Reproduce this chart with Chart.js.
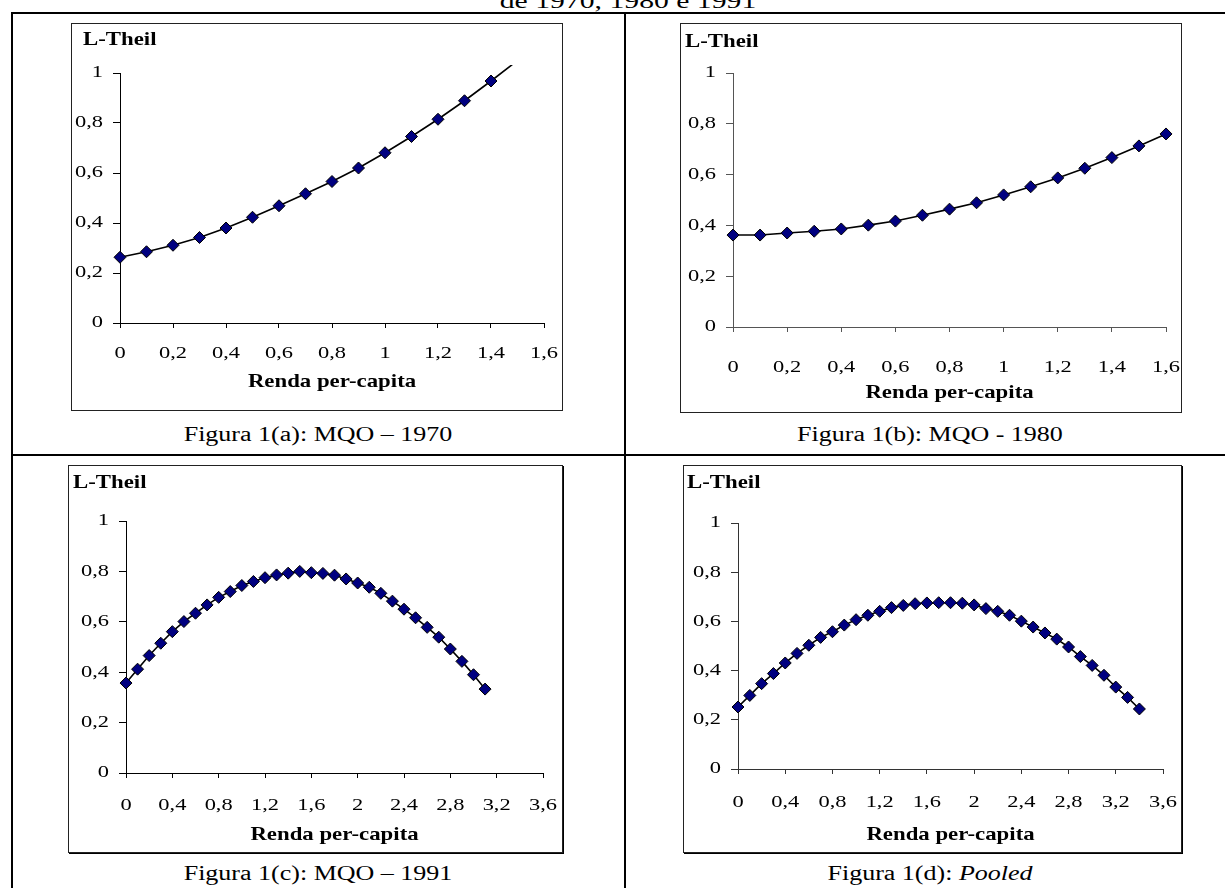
<!DOCTYPE html>
<html>
<head>
<meta charset="utf-8">
<script src="https://cdn.jsdelivr.net/npm/chart.js@4.4.0/dist/chart.umd.min.js"></script>
<style>
  body { margin: 0; width: 1225px; height: 888px; overflow: hidden; background: #fff; position: relative;
         font-family: 'Liberation Serif', 'Times New Roman', serif; color: #000; }
  .ln { position: absolute; background: #000; }
  .cap { position: absolute; font-size: 20px; line-height: 1; white-space: nowrap; transform: translateX(-50%) scaleX(1.3); }
  .box { position: absolute; border: 1px solid #222; box-sizing: border-box; }
  .box canvas { position: absolute; left: 0; top: 0; }
</style>
</head>
<body>

<div class="cap" style="left:628px; top:-10px; font-size:22px; transform: translateX(-50%) scaleX(1.35);">de 1970, 1980 e 1991</div>

<div class="ln" style="left:11px; top:12px; width:1214px; height:2px;"></div>
<div class="ln" style="left:11px; top:12px; width:2px; height:876px;"></div>
<div class="ln" style="left:624px; top:12px; width:2px; height:876px;"></div>
<div class="ln" style="left:11px; top:454px; width:1214px; height:2px;"></div>

<div class="box" id="boxA"><canvas id="chartA"></canvas></div>
<div class="box" id="boxB"><canvas id="chartB"></canvas></div>
<div class="box" id="boxC" style="box-shadow: 1px 1px 0 #000;"><canvas id="chartC"></canvas></div>
<div class="box" id="boxD" style="box-shadow: 1px 1px 0 #000;"><canvas id="chartD"></canvas></div>

<div class="cap" style="left:318px; top:424px;">Figura 1(a): MQO – 1970</div>
<div class="cap" style="left:930px; top:424px;">Figura 1(b): MQO - 1980</div>
<div class="cap" style="left:318px; top:863px;">Figura 1(c): MQO – 1991</div>
<div class="cap" style="left:930px; top:863px;">Figura 1(d): <i>Pooled</i></div>

<script>
// dados
const rendaA = [0, 0.1, 0.2, 0.3, 0.4, 0.5, 0.6, 0.7, 0.8, 0.9, 1, 1.1, 1.2, 1.3, 1.4, 1.5]
const lTheilA = [0.263, 0.285, 0.311, 0.342, 0.380, 0.423, 0.469, 0.517, 0.566, 0.620, 0.681, 0.746, 0.815, 0.889, 0.968, 1.05]

const rendaB = [0, 0.1, 0.2, 0.3, 0.4, 0.5, 0.6, 0.7, 0.8, 0.9, 1, 1.1, 1.2, 1.3, 1.4, 1.5, 1.6]
const lTheilB = [0.362, 0.362, 0.370, 0.377, 0.386, 0.401, 0.417, 0.440, 0.464, 0.489, 0.520, 0.552, 0.587, 0.625, 0.667, 0.713, 0.760]

const rendaC = [0, 0.1, 0.2, 0.3, 0.4, 0.5, 0.6, 0.7, 0.8, 0.9, 1, 1.1, 1.2, 1.3, 1.4, 1.5,
                1.6, 1.7, 1.8, 1.9, 2, 2.1, 2.2, 2.3, 2.4, 2.5, 2.6, 2.7, 2.8, 2.9, 3, 3.1]
const lTheilC = [0.357, 0.412, 0.466, 0.515, 0.561, 0.601, 0.634, 0.667, 0.697, 0.720, 0.744, 0.760, 0.775, 0.786, 0.793, 0.800,
                 0.795, 0.792, 0.785, 0.770, 0.754, 0.737, 0.713, 0.682, 0.650, 0.616, 0.578, 0.539, 0.492, 0.443, 0.390, 0.333]

const rendaD = [0, 0.1, 0.2, 0.3, 0.4, 0.5, 0.6, 0.7, 0.8, 0.9, 1, 1.1, 1.2, 1.3, 1.4, 1.5, 1.6, 1.7,
                1.8, 1.9, 2, 2.1, 2.2, 2.3, 2.4, 2.5, 2.6, 2.7, 2.8, 2.9, 3, 3.1, 3.2, 3.3, 3.4]
const lTheilD = [0.252, 0.299, 0.347, 0.388, 0.431, 0.470, 0.503, 0.535, 0.558, 0.585, 0.607, 0.625, 0.641, 0.656, 0.665, 0.672, 0.675, 0.676,
                 0.676, 0.674, 0.667, 0.652, 0.641, 0.625, 0.601, 0.577, 0.553, 0.528, 0.496, 0.457, 0.421, 0.381, 0.333, 0.291, 0.244]

// eixos
const yTicks = [0, 0.2, 0.4, 0.6, 0.8, 1]
const yTickLabels = ['0', '0,2', '0,4', '0,6', '0,8', '1']
const xTicksAB = [0, 0.2, 0.4, 0.6, 0.8, 1, 1.2, 1.4, 1.6]
const xTickLabelsAB = ['0', '0,2', '0,4', '0,6', '0,8', '1', '1,2', '1,4', '1,6']
const xTicksCD = [0, 0.4, 0.8, 1.2, 1.6, 2, 2.4, 2.8, 3.2, 3.6]
const xTickLabelsCD = ['0', '0,4', '0,8', '1,2', '1,6', '2', '2,4', '2,8', '3,2', '3,6']

const yTitle = 'L-Theil'
const xTitle = 'Renda per-capita'

const fonte = "'Liberation Serif', 'Times New Roman', serif"

// posicoes na pagina (caixa do grafico e area de plotagem)
const paineis = [
    { id: 'A', x: rendaA, y: lTheilA, ticks: xTicksAB, labels: xTickLabelsAB, eixo: '#000',
      box: { l: 71, t: 23, w: 492, h: 388 }, plot: { l: 120, r: 544, t: 73, b: 323 }, tickPad: 15, xH: 70, lab: { x: 11, y: 16 } },
    { id: 'B', x: rendaB, y: lTheilB, ticks: xTicksAB, labels: xTickLabelsAB, eixo: '#555',
      box: { l: 680, t: 23, w: 502, h: 390 }, plot: { l: 733, r: 1166, t: 73, b: 327 }, tickPad: 25, xH: 77, lab: { x: 4, y: 18 } },
    { id: 'C', x: rendaC, y: lTheilC, ticks: xTicksCD, labels: xTickLabelsCD, eixo: '#000',
      box: { l: 68, t: 465, w: 495, h: 388 }, plot: { l: 126, r: 543, t: 521, b: 773 }, tickPad: 17, xH: 73, lab: { x: 4, y: 17 } },
    { id: 'D', x: rendaD, y: lTheilD, ticks: xTicksCD, labels: xTickLabelsCD, eixo: '#333',
      box: { l: 683, t: 465, w: 499, h: 388 }, plot: { l: 738, r: 1163, t: 523, b: 769 }, tickPad: 18, xH: 77, lab: { x: 3, y: 17 } },
]

// o texto do original sai mais largo: estica na horizontal a partir do ponto de ancora
const esticar = {
    id: 'esticar',
    beforeInit(chart) {
        const ctx = chart.ctx
        const fill = ctx.fillText.bind(ctx)
        ctx.fillText = function (t, x, y) {
            const f = ctx.font.indexOf('bold') >= 0 ? 1.2 : 1.32
            ctx.save()
            ctx.translate(x, y)
            ctx.scale(f, 1)
            fill(t, 0, 0)
            ctx.restore()
        }
    }
}

const rotuloY = {
    id: 'rotuloY',
    afterDraw(chart, args, opts) {
        const ctx = chart.ctx
        ctx.save()
        ctx.font = "bold 19px " + fonte
        ctx.fillStyle = '#000'
        ctx.textBaseline = 'middle'
        ctx.textAlign = 'left'
        ctx.fillText(yTitle, opts.x, opts.y)
        ctx.restore()
    }
}

function desenhar(p) {
    const box = document.getElementById('box' + p.id)
    box.style.left = p.box.l + 'px'
    box.style.top = p.box.t + 'px'
    box.style.width = p.box.w + 'px'
    box.style.height = p.box.h + 'px'

    const cl = p.box.l + 1, ct = p.box.t + 1
    const cw = p.box.w - 2, ch = p.box.h - 2
    const canvas = document.getElementById('chart' + p.id)
    canvas.width = cw
    canvas.height = ch

    new Chart(canvas, {
        type: 'line',
        data: {
            datasets: [{
                data: p.x.map((v, i) => ({ x: v, y: p.y[i] })),
                borderColor: '#000',
                borderWidth: 1.6,
                tension: 0,
                pointStyle: 'rectRot',
                pointRadius: c => (c.raw && c.raw.y > 1 ? 0 : 6),
                pointBackgroundColor: '#000080',
                pointBorderColor: '#000',
                pointBorderWidth: 1,
                clip: { left: 10, top: 8, right: 10, bottom: 10 }
            }]
        },
        options: {
            responsive: false,
            animation: false,
            events: [],
            layout: {
                padding: {
                    left: 0,
                    top: p.plot.t - ct,
                    right: cw - (p.plot.r - cl),
                    bottom: ch - (p.plot.b - ct) - p.xH
                }
            },
            scales: {
                x: {
                    type: 'linear',
                    min: 0,
                    max: p.ticks[p.ticks.length - 1],
                    afterBuildTicks: s => { s.ticks = p.ticks.map(v => ({ value: v })) },
                    afterFit: s => { s.height = p.xH; s.paddingLeft = 0; s.paddingRight = 0 },
                    grid: { drawOnChartArea: false, drawTicks: true, tickLength: 5, color: p.eixo, lineWidth: 1 },
                    border: { display: true, color: p.eixo, width: 1 },
                    ticks: {
                        padding: p.tickPad,
                        maxRotation: 0,
                        autoSkip: false,
                        color: '#000',
                        font: { family: fonte, size: 17 },
                        callback: v => p.labels[p.ticks.indexOf(v)]
                    },
                    title: {
                        display: true,
                        text: xTitle,
                        color: '#000',
                        padding: 0,
                        font: { family: fonte, size: 19, weight: 'bold' }
                    }
                },
                y: {
                    min: 0,
                    max: 1,
                    afterBuildTicks: s => { s.ticks = yTicks.map(v => ({ value: v })) },
                    afterFit: s => { s.width = p.plot.l - cl; s.paddingTop = 0; s.paddingBottom = 0 },
                    grid: { drawOnChartArea: false, drawTicks: true, tickLength: 7, color: p.eixo, lineWidth: 1 },
                    border: { display: true, color: p.eixo, width: 1 },
                    ticks: {
                        padding: 10,
                        color: '#000',
                        font: { family: fonte, size: 17 },
                        callback: v => yTickLabels[yTicks.indexOf(v)]
                    }
                }
            },
            plugins: {
                legend: { display: false },
                tooltip: { enabled: false },
                rotuloY: { x: p.lab.x, y: p.lab.y }
            }
        },
        plugins: [esticar, rotuloY]
    })
}

paineis.forEach(desenhar)
</script>
</body>
</html>
